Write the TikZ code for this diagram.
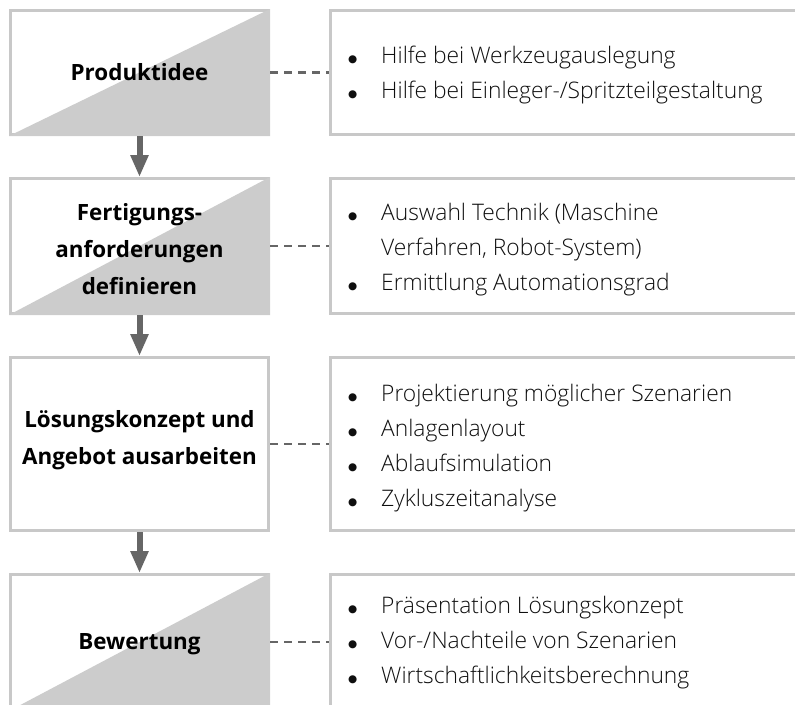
\documentclass[tikz,border=0pt]{standalone}
\usepackage{fontspec}
\setmainfont{Open Sans}
\newfontfamily\lightfont{Open Sans Light}
\newfontfamily\bulfont{DejaVu Sans}
\usetikzlibrary{arrows.meta}
\definecolor{bordergray}{RGB}{200,200,200}
\definecolor{trigray}{RGB}{204,204,204}
\definecolor{darkline}{RGB}{102,102,102}
\definecolor{txtcol}{RGB}{15,15,15}
\newcommand{\bul}{\makebox[33pt][l]{\hspace*{0pt}\raisebox{1.2pt}{\bulfont\fontsize{10.5}{10.5}\selectfont ●}}}
\newcommand{\ind}{\hspace*{33pt}}
\begin{document}
\begin{tikzpicture}[x=1pt,y=-1pt,
  lbox/.style={draw=bordergray, line width=3pt, fill=white, minimum width=258pt, inner sep=0pt},
  rbox/.style={draw=bordergray, line width=3pt, fill=white, minimum width=498pt, inner sep=0pt},
  tri/.style={fill=trigray},
  ltext/.style={font=\fontsize{22.4}{37}\selectfont\bfseries, align=center, text=black, inner sep=0pt},
  rtext/.style={font=\lightfont\fontsize{22.8}{35}\selectfont, align=left, text=txtcol, inner sep=0pt, anchor=west},
  flowarrow/.style={draw=darkline, line width=6pt, -{Triangle[width=17pt,length=22pt]}},
  link/.style={draw=darkline, line width=2.5pt, dash pattern=on 8pt off 6pt}
]
\useasboundingbox (0,0) rectangle (795,704);

% left boxes
\node[lbox, minimum height=124pt] (b1) at (139.5,72.5) {};
\fill[tri] (b1.south west) -- (b1.north east) -- (b1.south east) -- cycle;
\node[lbox, minimum height=135pt] (b2) at (139.5,246) {};
\fill[tri] (b2.south west) -- (b2.north east) -- (b2.south east) -- cycle;
\node[lbox, minimum height=173pt] (b3) at (139.5,444) {};
\node[lbox, minimum height=135pt] (b4) at (139.5,642) {};
\fill[tri] (b4.south west) -- (b4.north east) -- (b4.south east) -- cycle;

\node[ltext] (t1) at (139.5,72) {Produktidee};
\node[ltext] (t2) at (139.5,249) {Fertigungs-\\anforderungen\\definieren};
\node[ltext] (t3) at (139.5,440) {Lösungskonzept und\\Angebot ausarbeiten};
\node[ltext] (t4) at (139.5,644) {Bewertung};

% right boxes
\node[rbox, minimum height=124pt] (r1) at (579.5,72.5) {};
\node[rbox, minimum height=135pt] (r2) at (579.5,246) {};
\node[rbox, minimum height=173pt] (r3) at (579.5,444) {};
\node[rbox, minimum height=135pt] (r4) at (579.5,642) {};

\node[rtext] (l1) at (348,75) {\bul Hilfe bei Werkzeugauslegung\\\bul Hilfe bei Einleger-/Spritzteilgestaltung};
\node[rtext] (l2) at (348,250) {\bul Auswahl Technik (Maschine\\\ind Verfahren, Robot-System)\\\bul Ermittlung Automationsgrad};
\node[rtext] (l3) at (348,448) {\bul Projektierung möglicher Szenarien\\\bul Anlagenlayout\\\bul Ablaufsimulation\\\bul Zykluszeitanalyse};
\node[rtext] (l4) at (348,643) {\bul Präsentation Lösungskonzept\\\bul Vor-/Nachteile von Szenarien\\\bul Wirtschaftlichkeitsberechnung};

% connectors
\draw[flowarrow] (b1.south) -- (b2.north);
\draw[flowarrow] (b2.south) -- (b3.north);
\draw[flowarrow] (b3.south) -- (b4.north);

\draw[link] (b1.east) -- (r1.west);
\draw[link] (b2.east) -- (r2.west);
\draw[link] (b3.east) -- (r3.west);
\draw[link] (b4.east) -- (r4.west);
\end{tikzpicture}
\end{document}
